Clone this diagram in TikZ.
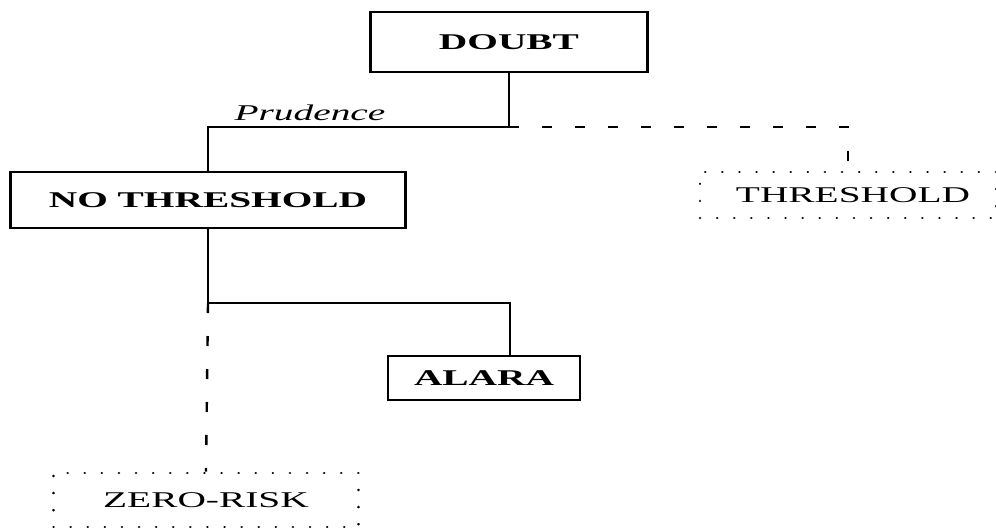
\documentclass[tikz,border=0pt]{standalone}
\usepackage{fontspec}
\usepackage{graphicx}
\setmainfont{Liberation Serif}
\newcommand{\widetext}[1]{\scalebox{1.75}[1]{\fontsize{22.5}{27}\selectfont #1}}
\tikzset{
  solidbox/.style={draw, line width=2.2pt, rectangle, inner sep=0pt, font=\bfseries},
  dotbox/.style={draw, line width=2.6pt, rectangle, inner sep=0pt, dash pattern=on 0.1pt off 17pt, line cap=round},
  conn/.style={line width=2.2pt},
  dconn/.style={line width=2.4pt, dash pattern=on 10pt off 23pt}
}
\begin{document}
\begin{tikzpicture}[x=1pt,y=-1pt]
\useasboundingbox (0,0) rectangle (996,528);
\node[solidbox, minimum width=277pt, minimum height=60pt] (doubt) at (509,42) {\widetext{\bfseries DOUBT}};
\node[solidbox, minimum width=395pt, minimum height=56pt] (nt) at (208,200) {\widetext{\bfseries NO THRESHOLD}};
\node[solidbox, minimum width=192pt, minimum height=44pt] (alara) at (484,378) {\widetext{\bfseries ALARA}};
\node[dotbox, minimum width=296pt, minimum height=46pt] (thr) at (848,195) {\hspace*{10pt}\widetext{THRESHOLD}};
\node[dotbox, minimum width=305pt, minimum height=54pt] (zr) at (206,500) {\widetext{ZERO-RISK}};
\coordinate (j1) at (509,127);
\coordinate (j2) at (208,303);
\coordinate (j3) at (510,303);
\draw[conn] (doubt.south) -- (j1) -| (nt.north);
\node[font=\itshape] (prud) at (310,113) {\widetext{Prudence}};
\draw[dconn] (j1) -| (thr.north);
\draw[conn] (nt.south) -- (j2) -- (j3) -- (j3 |- alara.north);
\draw[dconn] (j2) -- (zr.north);
\end{tikzpicture}
\end{document}
